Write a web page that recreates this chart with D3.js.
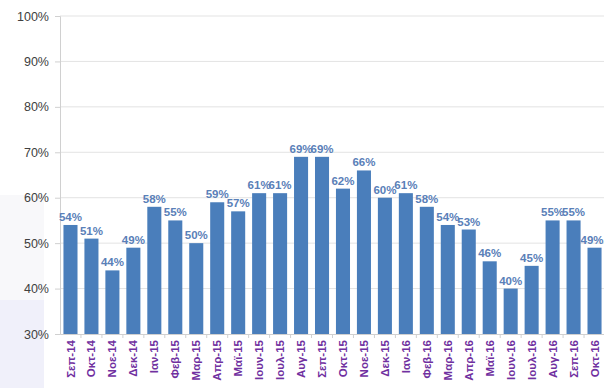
<!DOCTYPE html>
<html><head><meta charset="utf-8">
<script src="https://cdn.jsdelivr.net/npm/d3@7"></script>
<style>html,body{margin:0;padding:0;background:#fff;}svg{display:block;}</style>
</head><body>
<script>
const categories = ["Σεπ-14","Οκτ-14","Νοε-14","Δεκ-14","Ιαν-15","Φεβ-15","Μαρ-15","Απρ-15","Μαϊ-15","Ιουν-15","Ιουλ-15","Αυγ-15","Σεπ-15","Οκτ-15","Νοε-15","Δεκ-15","Ιαν-16","Φεβ-16","Μαρ-16","Απρ-16","Μαϊ-16","Ιουν-16","Ιουλ-16","Αυγ-16","Σεπ-16","Οκτ-16"];
const values = [54,51,44,49,58,55,50,59,57,61,61,69,69,62,66,60,61,58,54,53,46,40,45,55,55,49];
const yTicks = [0.3,0.4,0.5,0.6,0.7,0.8,0.9,1.0];

const W = 604, H = 388;
const m = {left: 60, right: 0, top: 16, bottom: 54};
const svg = d3.select("body").append("svg").attr("width", W).attr("height", H);

// faint slide background shapes
svg.append("rect").attr("x",0).attr("y",195).attr("width",44).attr("height",105).attr("fill","#f8f8fa");
svg.append("rect").attr("x",0).attr("y",300).attr("width",44).attr("height",88).attr("fill","#f0f0fa");

const x = d3.scaleBand().domain(categories).range([m.left, W - m.right + 1]).paddingInner(0.33).paddingOuter(0.165);
const y = d3.scaleLinear().domain([0.3, 1.0]).range([H - m.bottom, m.top]);

// gridlines
svg.append("g").selectAll("line").data(yTicks.slice(1)).join("line")
  .attr("x1", m.left).attr("x2", W).attr("y1", d => y(d)).attr("y2", d => y(d))
  .attr("stroke", "#e3e3e3").attr("stroke-width", 1);

// y axis
const yAxis = svg.append("g").attr("transform", `translate(${m.left},0)`)
  .call(d3.axisLeft(y).tickValues(yTicks).tickFormat(d3.format(".0%")).tickSize(5).tickPadding(6));
yAxis.select(".domain").attr("stroke", "#d0d0d0");
yAxis.selectAll(".tick line").attr("stroke", "#d0d0d0");
yAxis.selectAll("text").attr("fill", "#404040").style("font-family", "Liberation Sans, Arial, sans-serif").style("font-size", "12.5px");

// bars
svg.append("g").selectAll("rect").data(values).join("rect")
  .attr("x", (d,i) => x(categories[i]))
  .attr("width", x.bandwidth())
  .attr("y", d => y(d/100))
  .attr("height", d => y(0.3) - y(d/100))
  .attr("fill", "#4a7ebb");

// x axis
const xAxis = svg.append("g").attr("transform", `translate(0,${y(0.3)})`)
  .call(d3.axisBottom(x).tickSize(4).tickSizeOuter(0));
xAxis.select(".domain").attr("stroke", "#d0d0d0");
xAxis.selectAll(".tick line").attr("stroke", "#d0d0d0").attr("transform", `translate(${x.step()/2},0)`);
xAxis.selectAll("text")
  .attr("transform", "rotate(-90)")
  .attr("x", -6).attr("y", 0).attr("dy", "0.35em")
  .style("text-anchor", "end")
  .attr("fill", "#7030a0")
  .style("font-family", "Liberation Sans, Arial, sans-serif")
  .style("font-size", "11.5px").style("font-weight", "bold");

// value labels
svg.append("g").selectAll("text").data(values).join("text")
  .attr("x", (d,i) => Math.min(x(categories[i]) + x.bandwidth()/2, W - 12))
  .attr("y", d => y(d/100) - 4)
  .attr("text-anchor", "middle")
  .attr("fill", "#5a80b8")
  .style("font-family", "Liberation Sans, Arial, sans-serif")
  .style("font-size", "11.5px").style("font-weight", "bold")
  .text(d => d + "%");
</script>
</body></html>
